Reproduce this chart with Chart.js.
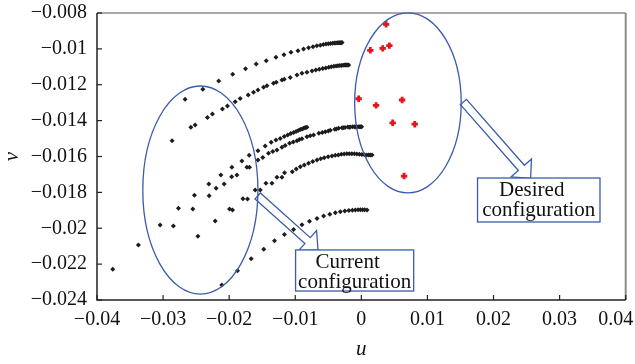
<!DOCTYPE html>
<html>
<head>
<meta charset="utf-8">
<script src="https://cdn.jsdelivr.net/npm/chart.js@4.4.0/dist/chart.umd.min.js"></script>
<style>
    html, body { margin: 0; padding: 0; background: #fff; }
    #contenedor { width: 635px; height: 364px; }
</style>
</head>
<body>
<div id="contenedor"><canvas id="myChart" width="635" height="364"></canvas></div>
<script>
// valores y etiquetas de los ejes (la ultima lleva un espacio para no salirse del lienzo)
var valoresX = [-0.04, -0.03, -0.02, -0.01, 0, 0.01, 0.02, 0.03, 0.04];
var etiquetasX = ['\u22120.04', '\u22120.03', '\u22120.02', '\u22120.01', '0', '0.01', '0.02', '0.03', '0.04\u2003'];
var valoresY = [-0.024, -0.022, -0.02, -0.018, -0.016, -0.014, -0.012, -0.01, -0.008];
var etiquetasY = ['\u22120.024', '\u22120.022', '\u22120.02', '\u22120.018', '\u22120.016', '\u22120.014', '\u22120.012', '\u22120.01', '\u22120.008'];

// trayectorias de los puntos en el plano (u, v)
var tray1 = [[-0.02667,-0.01281],[-0.02399,-0.01225],[-0.02159,-0.01179],[-0.01947,-0.01142],[-0.01753,-0.01111],[-0.01591,-0.01084],[-0.01439,-0.01066],[-0.01292,-0.01047],[-0.01171,-0.01033],[-0.01065,-0.01019],[-0.00959,-0.01010],[-0.00874,-0.01001],[-0.00799,-0.00994],[-0.00732,-0.00988],[-0.00674,-0.00983],[-0.00621,-0.00980],[-0.00576,-0.00976],[-0.00535,-0.00973],[-0.00500,-0.00971],[-0.00467,-0.00970],[-0.00436,-0.00968],[-0.00409,-0.00967],[-0.00385,-0.00967],[-0.00364,-0.00966],[-0.00345,-0.00966],[-0.00329,-0.00966],[-0.00315,-0.00966],[-0.00303,-0.00966],[-0.00292,-0.00965]];
var tray2 = [[-0.02864,-0.01512],[-0.02580,-0.01437],[-0.02515,-0.01424],[-0.02329,-0.01382],[-0.02253,-0.01363],[-0.02102,-0.01335],[-0.02026,-0.01319],[-0.01909,-0.01295],[-0.01833,-0.01276],[-0.01712,-0.01257],[-0.01632,-0.01242],[-0.01565,-0.01229],[-0.01480,-0.01214],[-0.01429,-0.01205],[-0.01329,-0.01192],[-0.01288,-0.01186],[-0.01202,-0.01174],[-0.01167,-0.01169],[-0.01076,-0.01159],[-0.00974,-0.01146],[-0.00899,-0.01136],[-0.00823,-0.01131],[-0.00747,-0.01123],[-0.00689,-0.01118],[-0.00636,-0.01113],[-0.00583,-0.01109],[-0.00538,-0.01106],[-0.00492,-0.01102],[-0.00455,-0.01099],[-0.00417,-0.01097],[-0.00383,-0.01096],[-0.00353,-0.01094],[-0.00326,-0.01093],[-0.00300,-0.01092],[-0.00277,-0.01091],[-0.00258,-0.01090],[-0.00239,-0.01090],[-0.00223,-0.01090],[-0.00208,-0.01090],[-0.00192,-0.01090]];
var tray3 = [[-0.03762,-0.02229],[-0.03374,-0.02093],[-0.03045,-0.01982],[-0.02768,-0.01889],[-0.02526,-0.01816],[-0.02308,-0.01753],[-0.02126,-0.01703],[-0.01959,-0.01660],[-0.01808,-0.01625],[-0.01697,-0.01593],[-0.01565,-0.01568],[-0.01455,-0.01542],[-0.01364,-0.01521],[-0.01292,-0.01508],[-0.01227,-0.01499],[-0.01167,-0.01489],[-0.01114,-0.01480],[-0.01068,-0.01472],[-0.01026,-0.01466],[-0.00988,-0.01460],[-0.00955,-0.01455],[-0.00924,-0.01450],[-0.00897,-0.01446],[-0.00874,-0.01443],[-0.00855,-0.01440],[-0.00838,-0.01438],[-0.00823,-0.01437]];
var tray4 = [[-0.02844,-0.01988],[-0.02550,-0.01893],[-0.02303,-0.01819],[-0.02076,-0.01753],[-0.01883,-0.01703],[-0.01732,-0.01660],[-0.01565,-0.01620],[-0.01405,-0.01582],[-0.01277,-0.01564],[-0.01202,-0.01549],[-0.01086,-0.01526],[-0.00974,-0.01512],[-0.00899,-0.01501],[-0.00823,-0.01490],[-0.00723,-0.01480],[-0.00644,-0.01471],[-0.00545,-0.01462],[-0.00470,-0.01454],[-0.00402,-0.01448],[-0.00344,-0.01443],[-0.00292,-0.01440],[-0.00247,-0.01438],[-0.00205,-0.01436],[-0.00167,-0.01435],[-0.00132,-0.01434],[-0.00102,-0.01434],[-0.00073,-0.01434],[-0.00049,-0.01434],[-0.00027,-0.01434],[-0.00011,-0.01434],[0.00005,-0.01434]];
var tray5 = [[-0.02197,-0.01777],[-0.01962,-0.01713],[-0.01692,-0.01660],[-0.01492,-0.01606],[-0.01341,-0.01572],[-0.01152,-0.01539],[-0.01030,-0.01519],[-0.00939,-0.01505],[-0.00773,-0.01485],[-0.00591,-0.01466],[-0.00500,-0.01458],[-0.00379,-0.01447],[-0.00273,-0.01440],[-0.00182,-0.01437],[-0.00091,-0.01436]];
var tray6 = [[-0.02474,-0.02045],[-0.02212,-0.01960],[-0.01995,-0.01893],[-0.01950,-0.01898],[-0.01792,-0.01835],[-0.01723,-0.01837],[-0.01606,-0.01787],[-0.01530,-0.01787],[-0.01444,-0.01749],[-0.01353,-0.01749],[-0.01277,-0.01716],[-0.01202,-0.01716],[-0.01162,-0.01690],[-0.01045,-0.01685],[-0.00985,-0.01670],[-0.00924,-0.01657],[-0.00864,-0.01647],[-0.00799,-0.01638],[-0.00735,-0.01628],[-0.00671,-0.01620],[-0.00614,-0.01613],[-0.00561,-0.01607],[-0.00503,-0.01602],[-0.00444,-0.01597],[-0.00394,-0.01593],[-0.00348,-0.01591],[-0.00303,-0.01588],[-0.00261,-0.01586],[-0.00220,-0.01585],[-0.00182,-0.01584],[-0.00144,-0.01584],[-0.00106,-0.01585],[-0.00068,-0.01586],[-0.00030,-0.01587],[0.00008,-0.01589],[0.00045,-0.01590],[0.00080,-0.01591],[0.00111,-0.01592],[0.00136,-0.01592],[0.00162,-0.01592]];
var tray7 = [[-0.02111,-0.02316],[-0.01874,-0.02237],[-0.01667,-0.02170],[-0.01477,-0.02117],[-0.01314,-0.02069],[-0.01164,-0.02035],[-0.01026,-0.02007],[-0.00899,-0.01980],[-0.00785,-0.01961],[-0.00671,-0.01945],[-0.00571,-0.01932],[-0.00477,-0.01922],[-0.00394,-0.01914],[-0.00318,-0.01908],[-0.00250,-0.01904],[-0.00189,-0.01901],[-0.00136,-0.01899],[-0.00091,-0.01898],[-0.00050,-0.01897],[-0.00015,-0.01897],[0.00018,-0.01897],[0.00050,-0.01897],[0.00086,-0.01898]];

// configuracion deseada
var deseados = [[0.00374,-0.00863],[0.00136,-0.01008],[0.00323,-0.00997],[0.00424,-0.00982],[-0.00041,-0.01278],[0.00223,-0.01315],[0.00617,-0.01285],[0.00474,-0.01412],[0.00808,-0.01420],[0.00647,-0.01709]];

// anotaciones (en unidades de los ejes)
var elipses = [
    { u: -0.02436, v: -0.01787, du: 0.00871, dv: 0.00580 },
    { u: 0.00705, v: -0.01301, du: 0.00806, dv: 0.00502 }
];
var flechas = [
    { desde: [-0.01568, -0.01820], hasta: [-0.00656, -0.02121] },
    { desde: [0.01545, -0.01296], hasta: [0.02561, -0.01722] }
];
var cajas = [
    { u1: -0.00995, u2: 0.00792, v1: -0.02121, v2: -0.02350, lineas: ['Current', 'configuration'] },
    { u1: 0.01758, u2: 0.03611, v1: -0.01720, v2: -0.01965, lineas: ['Desired', 'configuration'] }
];

var AZUL = '#3b5ca8';
var FUENTE = '"Liberation Serif", "Times New Roman", serif';

function aPuntos(lista) {
    return lista.map(function (p) { return { x: p[0], y: p[1] }; });
}

var anotaciones = {
    id: 'anotaciones',
    afterDatasetsDraw: function (chart) {
        var ctx = chart.ctx;
        var sx = chart.scales.x, sy = chart.scales.y;
        var a = chart.chartArea;
        ctx.save();

        // marco
        ctx.lineWidth = 1.2;
        ctx.strokeStyle = '#555';
        ctx.beginPath(); ctx.moveTo(a.left, a.top); ctx.lineTo(a.right, a.top); ctx.stroke();
        ctx.lineWidth = 2;
        ctx.strokeStyle = '#8a8a8a';
        ctx.beginPath(); ctx.moveTo(a.right, a.top); ctx.lineTo(a.right, a.bottom); ctx.stroke();
        ctx.lineWidth = 1.5;
        ctx.strokeStyle = '#222';
        ctx.beginPath(); ctx.moveTo(a.left, a.top); ctx.lineTo(a.left, a.bottom); ctx.lineTo(a.right, a.bottom); ctx.stroke();

        // marcas hacia adentro
        ctx.lineWidth = 1.2;
        valoresX.forEach(function (v) {
            var x = sx.getPixelForValue(v);
            ctx.beginPath(); ctx.moveTo(x, a.bottom); ctx.lineTo(x, a.bottom - 5); ctx.stroke();
        });
        valoresY.forEach(function (v) {
            var y = sy.getPixelForValue(v);
            ctx.beginPath(); ctx.moveTo(a.left, y); ctx.lineTo(a.left + 5, y); ctx.stroke();
        });

        // elipses
        ctx.strokeStyle = AZUL;
        ctx.lineWidth = 1.3;
        elipses.forEach(function (e) {
            var cx = sx.getPixelForValue(e.u), cy = sy.getPixelForValue(e.v);
            var rx = sx.getPixelForValue(e.u + e.du) - cx;
            var ry = cy - sy.getPixelForValue(e.v + e.dv);
            ctx.beginPath();
            ctx.ellipse(cx, cy, rx, ry, 0, 0, Math.PI * 2);
            ctx.stroke();
        });

        // flechas huecas
        flechas.forEach(function (f) {
            var x0 = sx.getPixelForValue(f.desde[0]), y0 = sy.getPixelForValue(f.desde[1]);
            var x1 = sx.getPixelForValue(f.hasta[0]), y1 = sy.getPixelForValue(f.hasta[1]);
            var len = Math.hypot(x1 - x0, y1 - y0);
            var dx = (x1 - x0) / len, dy = (y1 - y0) / len;
            var nx = -dy, ny = dx;
            var w = 4, h = 13.5, L = 14;
            var bx = x1 - dx * L, by = y1 - dy * L;
            ctx.beginPath();
            ctx.moveTo(x0 + nx * w, y0 + ny * w);
            ctx.lineTo(bx + nx * w, by + ny * w);
            ctx.lineTo(bx + nx * h, by + ny * h);
            ctx.lineTo(x1, y1);
            ctx.lineTo(bx - nx * h, by - ny * h);
            ctx.lineTo(bx - nx * w, by - ny * w);
            ctx.lineTo(x0 - nx * w, y0 - ny * w);
            ctx.closePath();
            ctx.stroke();
        });

        // cajas de texto
        ctx.font = '21px ' + FUENTE;
        ctx.textAlign = 'center';
        ctx.textBaseline = 'alphabetic';
        cajas.forEach(function (c) {
            var x1 = sx.getPixelForValue(c.u1), x2 = sx.getPixelForValue(c.u2);
            var y1 = sy.getPixelForValue(c.v1), y2 = sy.getPixelForValue(c.v2);
            ctx.fillStyle = '#fff';
            ctx.fillRect(x1, y1, x2 - x1, y2 - y1);
            ctx.strokeStyle = AZUL;
            ctx.strokeRect(x1, y1, x2 - x1, y2 - y1);
            ctx.fillStyle = '#111';
            var cx = (x1 + x2) / 2;
            ctx.fillText(c.lineas[0], cx - 7, y1 + 18);
            ctx.fillText(c.lineas[1], cx, y1 + 38);
        });

        ctx.restore();
    }
};

function graficar() {
    var ctx = document.getElementById('myChart').getContext('2d');
    var negro = {
        pointStyle: 'rectRot',
        pointRadius: 2.5,
        backgroundColor: '#1c1c1c',
        borderColor: '#1c1c1c',
        borderWidth: 0
    };
    var trayectorias = [tray1, tray2, tray3, tray4, tray5, tray6, tray7];
    var datasets = trayectorias.map(function (t, i) {
        return Object.assign({ label: 'trayectoria ' + (i + 1), data: aPuntos(t) }, negro);
    });
    datasets.push({
        label: 'deseada',
        data: aPuntos(deseados),
        pointStyle: 'cross',
        pointRadius: 3.2,
        borderWidth: 2.8,
        borderColor: '#e8141c',
        backgroundColor: '#e8141c'
    });

    new Chart(ctx, {
        type: 'scatter',
        data: { datasets: datasets },
        options: {
            responsive: false,
            animation: false,
            devicePixelRatio: 1,
            layout: { padding: { top: 13, right: 9.3, left: 0, bottom: 0 } },
            plugins: { legend: { display: false }, tooltip: { enabled: false } },
            scales: {
                x: {
                    type: 'linear',
                    min: -0.04, max: 0.04,
                    afterBuildTicks: function (s) { s.ticks = valoresX.map(function (v) { return { value: v }; }); },
                    // sin relleno extra por las etiquetas de los extremos
                    afterFit: function (s) { s.height = 64; s.paddingLeft = 0; s.paddingRight = 0; },
                    grid: { display: false, drawTicks: false },
                    border: { display: false },
                    ticks: {
                        autoSkip: false, maxRotation: 0, padding: 8,
                        color: '#111',
                        font: { family: FUENTE, size: 20 },
                        callback: function (v, i) { return etiquetasX[i]; }
                    },
                    title: {
                        display: true, text: 'u', color: '#111',
                        font: { family: FUENTE, size: 21, style: 'italic' },
                        padding: { top: 0, bottom: 2 }
                    }
                },
                y: {
                    type: 'linear',
                    min: -0.024, max: -0.008,
                    afterBuildTicks: function (s) { s.ticks = valoresY.map(function (v) { return { value: v }; }); },
                    afterFit: function (s) { s.width = 97; s.paddingTop = 0; s.paddingBottom = 0; },
                    grid: { display: false, drawTicks: false },
                    border: { display: false },
                    ticks: {
                        autoSkip: false, padding: 10,
                        color: '#111',
                        font: { family: FUENTE, size: 20 },
                        callback: function (v, i) { return etiquetasY[i]; }
                    },
                    title: {
                        display: true, text: 'v', color: '#111',
                        font: { family: FUENTE, size: 21, style: 'italic' },
                        padding: { top: 0, bottom: 0 }
                    }
                }
            }
        },
        plugins: [anotaciones]
    });
}

graficar();
</script>
</body>
</html>
